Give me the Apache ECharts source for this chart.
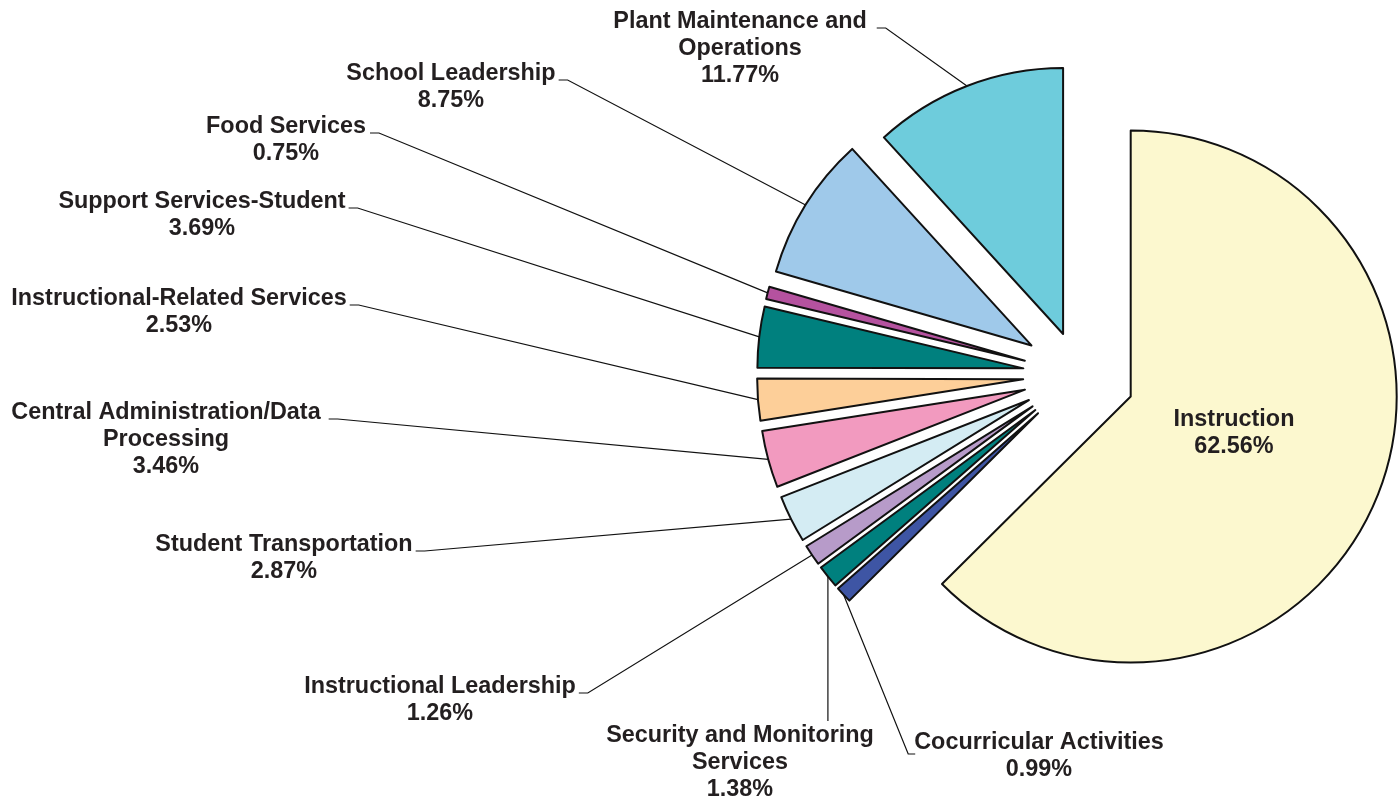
<!DOCTYPE html>
<html>
<head>
<meta charset="utf-8">
<title>Expenditures by Function</title>
<script src="https://cdn.jsdelivr.net/npm/echarts@6/dist/echarts.min.js"></script>
<style>
  html, body { margin: 0; padding: 0; background: #ffffff; }
  #chart { width: 1400px; height: 799px; }
</style>
</head>
<body>
<div id="chart"></div>
<script>
// ---- data: share of total spending by function (percent) ----
const categories = [
  'Instruction',
  'Cocurricular Activities',
  'Security and Monitoring\nServices',
  'Instructional Leadership',
  'Student Transportation',
  'Central Administration/Data\nProcessing',
  'Instructional-Related Services',
  'Support Services-Student',
  'Food Services',
  'School Leadership',
  'Plant Maintenance and\nOperations'
];
const shares = [62.56, 0.99, 1.38, 1.26, 2.87, 3.46, 2.53, 3.69, 0.75, 8.75, 11.77];

// ---- styling ----
const sliceColors = ['#FCF8CF', '#3E55A4', '#00807E', '#B79BC9', '#D4ECF3', '#F29ABF',
                     '#FDCF99', '#00807E', '#B5529F', '#9FC9EA', '#6ECCDC'];
const PIE_CENTER = [1079, 375];
const PIE_RADIUS = 266;
// how far each slice is pulled out from the centre, px
const explodeBy = [56, 56, 56, 56, 56, 56, 56, 56, 56, 56, 44];
const FONT = '"Liberation Sans", Arial, Helvetica, sans-serif';
const FONT_SIZE = 23.4;
const LINE_H = 27;
const TEXT_COLOR = '#231F20';
// label placement: x = centre of the text block, y = middle of its first line,
// side = where the leader line meets the text, gap = space before the text
const labelPlace = [
  { x: 1234, y: 420, side: 'none' },
  { x: 1039, y: 743, side: 'left' },
  { x: 740,  y: 736, side: 'top' },
  { x: 440,  y: 687, side: 'right', gap: 3 },
  { x: 284,  y: 545, side: 'right', gap: 3 },
  { x: 166,  y: 413, side: 'right', gap: 8 },
  { x: 179,  y: 299, side: 'right', gap: 3 },
  { x: 202,  y: 202, side: 'right', gap: 3 },
  { x: 286,  y: 127, side: 'right', gap: 4 },
  { x: 451,  y: 74,  side: 'right', gap: 3 },
  { x: 740,  y: 22,  side: 'right', gap: 10 }
];

const total = shares.reduce((s, v) => s + v, 0);

// each slice gets its own series so it can be pulled out by its own amount;
// the other slices in that series stay invisible
function sliceCenter(i) {
  let before = 0;
  for (let k = 0; k < i; k++) before += shares[k];
  const mid = (before + shares[i] / 2) / total * Math.PI * 2; // clockwise from 12 o'clock
  return { mid, c: [PIE_CENTER[0] + explodeBy[i] * Math.sin(mid), PIE_CENTER[1] - explodeBy[i] * Math.cos(mid)] };
}

const series = categories.map((_, i) => {
  const sc = sliceCenter(i);
  const place = labelPlace[i];
  return {
    type: 'pie',
    silent: true,
    animation: false,
    startAngle: 90,
    clockwise: true,
    center: sc.c,
    radius: [0, PIE_RADIUS],
    avoidLabelOverlap: false,
    label: { show: false },
    labelLine: { show: false },
    data: categories.map((name, j) => {
      if (j !== i) {
        return { name, value: shares[j], itemStyle: { color: 'rgba(0,0,0,0)', borderWidth: 0 } };
      }
      return {
        name,
        value: shares[j],
        itemStyle: { color: sliceColors[j], borderColor: '#111111', borderWidth: 2 },
        label: {
          show: true,
          position: place.side === 'none' ? 'inside' : 'outside',
          formatter: p => p.name + '\n' + p.value.toFixed(2) + '%',
          fontFamily: FONT,
          fontWeight: 'bold',
          fontSize: FONT_SIZE,
          lineHeight: LINE_H,
          color: TEXT_COLOR,
          align: 'center'
        },
        labelLine: {
          show: place.side !== 'none',
          lineStyle: { color: '#111111', width: 1.2 }
        }
      };
    }),
    labelLayout: function (p) {
      if (p.dataIndex !== i) return {};
      const out = { x: place.x, y: place.y - LINE_H / 2, align: 'center', verticalAlign: 'top' };
      if (place.side === 'none') return out;
      const w = p.labelRect.width;
      let anchor;
      if (p.labelLinePoints && p.labelLinePoints[0]) {
        anchor = p.labelLinePoints[0];
      } else {
        anchor = [sc.c[0] + PIE_RADIUS * Math.sin(sc.mid), sc.c[1] - PIE_RADIUS * Math.cos(sc.mid)];
      }
      if (place.side === 'right') {
        const ly = place.y + 6;
        const endX = place.x + w / 2 + place.gap;
        out.labelLinePoints = [anchor, [endX + 9, ly], [endX, ly]];
      } else if (place.side === 'left') {
        const ly = place.y + 11;
        const startX = place.x - w / 2;
        out.labelLinePoints = [anchor, [startX - 6, ly], [startX + 1, ly]];
      } else {
        out.labelLinePoints = [anchor, [anchor[0], place.y - 15]];
      }
      return out;
    }
  };
});

const chart = echarts.init(document.getElementById('chart'), null, { renderer: 'canvas' });
chart.setOption({
  backgroundColor: '#ffffff',
  animation: false,
  series
});
</script>
</body>
</html>
